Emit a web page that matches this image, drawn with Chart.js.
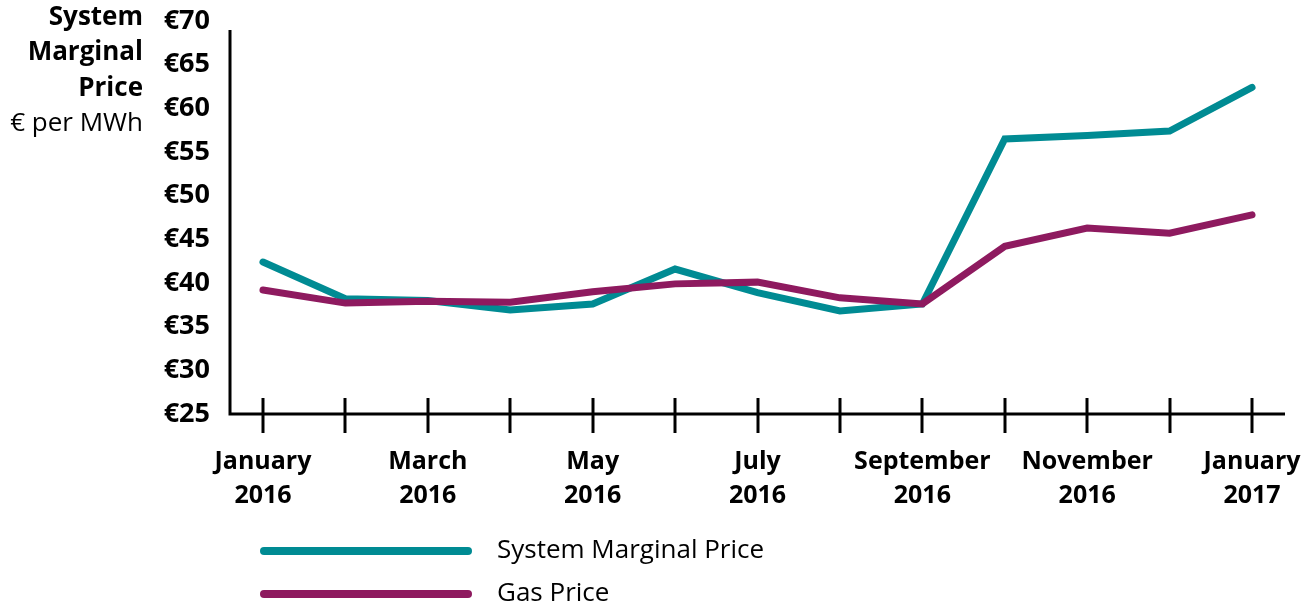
<!DOCTYPE html>
<html>
<head>
<meta charset="utf-8">
<script src="https://cdn.jsdelivr.net/npm/chart.js@4.4.1/dist/chart.umd.min.js"></script>
<style>
  html, body { margin: 0; padding: 0; background: #fff; }
  #wrap { width: 1309px; height: 608px; }
</style>
</head>
<body>
<div id="wrap"><canvas id="priceChart" width="1309" height="608"></canvas></div>
<script>
// months Jan 2016 .. Jan 2017, only every other one gets a label
const MONTHS = [
    ['January', '2016'], '', ['March', '2016'], '', ['May', '2016'], '', ['July', '2016'], '',
    ['September', '2016'], '', ['November', '2016'], '', ['January', '2017']
];
const SMP_VALUES = [42.4, 38.2, 38.0, 36.9, 37.6, 41.6, 38.9, 36.8, 37.6, 56.5, 56.9, 57.4, 62.4];
const GAS_VALUES = [39.2, 37.7, 37.9, 37.8, 39.0, 39.9, 40.1, 38.3, 37.6, 44.2, 46.3, 45.7, 47.8];
const Y_TICKS = [25, 30, 35, 40, 45, 50, 55, 60, 65, 70];
const SERIES_NAMES = ['System Marginal Price', 'Gas Price'];

const THEME = { teal: '#008b93', plum: '#8e1a5f', ink: '#000000', font: 'Open Sans' };

Chart.defaults.font.family = THEME.font;
Chart.defaults.color = THEME.ink;

const to_points = (values) => values.map((v, i) => ({ x: i, y: v }));

// axes, crossing tick marks, axis title and stacked legend
const decorations = {
    id: 'decorations',
    afterDraw(chart) {
        const { ctx, chartArea, scales } = chart;
        const axis_y = scales.y.getPixelForValue(25);
        ctx.save();
        ctx.strokeStyle = THEME.ink;
        ctx.lineWidth = 3;
        ctx.lineCap = 'butt';

        ctx.beginPath();
        ctx.moveTo(chartArea.left, chartArea.top + 9);
        ctx.lineTo(chartArea.left, axis_y + 1.5);
        ctx.moveTo(chartArea.left - 1.5, axis_y);
        ctx.lineTo(chartArea.right, axis_y);
        ctx.stroke();

        MONTHS.forEach((m, i) => {
            const x = Math.round(scales.x.getPixelForValue(i));
            ctx.beginPath();
            ctx.moveTo(x, axis_y - 16);
            ctx.lineTo(x, axis_y + 19);
            ctx.stroke();
        });

        ctx.fillStyle = THEME.ink;
        ctx.textAlign = 'right';
        ctx.textBaseline = 'middle';
        ctx.font = `bold 26px "${THEME.font}"`;
        ctx.fillText('System', 143, 18);
        ctx.fillText('Marginal', 143, 53);
        ctx.fillText('Price', 143, 89);
        ctx.font = `26px "${THEME.font}"`;
        ctx.fillText('€ per MWh', 143, 124);

        chart.data.datasets.forEach((ds, i) => {
            const y = 551 + i * 43;
            ctx.strokeStyle = ds.borderColor;
            ctx.lineWidth = 8;
            ctx.lineCap = 'round';
            ctx.beginPath();
            ctx.moveTo(264, y);
            ctx.lineTo(468, y);
            ctx.stroke();
            ctx.textAlign = 'left';
            ctx.font = `26px "${THEME.font}"`;
            ctx.fillText(ds.label, 497, y);
        });
        ctx.restore();
    }
};

new Chart(document.getElementById('priceChart').getContext('2d'), {
    type: 'line',
    data: {
        datasets: [
            { label: SERIES_NAMES[0], data: to_points(SMP_VALUES), borderColor: THEME.teal, order: 1 },
            { label: SERIES_NAMES[1], data: to_points(GAS_VALUES), borderColor: THEME.plum, order: 0 }
        ]
    },
    options: {
        responsive: false,
        animation: false,
        layout: { padding: { top: 21, right: 24, left: 0, bottom: 0 } },
        elements: {
            line: { borderWidth: 7, tension: 0, borderCapStyle: 'round', borderJoinStyle: 'miter', fill: false },
            point: { radius: 0, hoverRadius: 0 }
        },
        scales: {
            x: {
                type: 'linear',
                min: -0.4,
                max: 12.4,
                grid: { display: false, drawTicks: false },
                border: { display: false },
                afterBuildTicks: (scale) => { scale.ticks = MONTHS.map((m, i) => ({ value: i })); },
                afterFit: (scale) => { scale.height = 194; scale.paddingLeft = 0; scale.paddingRight = 0; },
                ticks: {
                    autoSkip: false,
                    maxRotation: 0,
                    padding: 31,
                    font: { size: 25, weight: 'bold', lineHeight: 1.36 },
                    callback: (v) => MONTHS[v] || ''
                }
            },
            y: {
                min: 25,
                max: 70,
                grid: { display: false, drawTicks: false },
                border: { display: false },
                afterBuildTicks: (scale) => { scale.ticks = Y_TICKS.map(v => ({ value: v })); },
                afterFit: (scale) => { scale.width = 230; scale.paddingTop = 0; scale.paddingBottom = 0; },
                ticks: {
                    padding: 20,
                    font: { size: 27, weight: 'bold' },
                    callback: (v) => '€' + v
                }
            }
        },
        plugins: { legend: { display: false }, tooltip: { enabled: false } }
    },
    plugins: [decorations]
});
</script>
</body>
</html>
